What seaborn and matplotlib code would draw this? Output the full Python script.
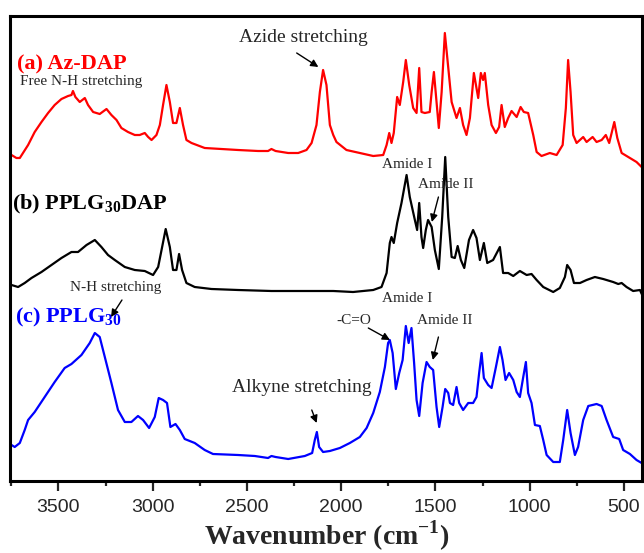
import matplotlib
matplotlib.use('Agg')
import matplotlib.pyplot as plt
import seaborn as sns
from matplotlib.ticker import MultipleLocator

# FTIR spectra (wavenumber in cm-1, stacked absorbance in arbitrary units)
red_wn = [3749, 3723, 3705, 3688, 3661, 3626, 3590, 3555, 3520, 3484,
          3449, 3431, 3423, 3410, 3387, 3360, 3343, 3316, 3281, 3245,
          3219, 3192, 3166, 3131, 3095, 3069, 3042, 3024, 3006, 2980,
          2962, 2945, 2927, 2909, 2892, 2874, 2856, 2839, 2821, 2794,
          2724, 2635, 2547, 2441, 2388, 2370, 2348, 2281, 2228, 2184,
          2157, 2131, 2113, 2096, 2078, 2060, 2042, 2025, 1972, 1901,
          1830, 1777, 1759, 1745, 1733, 1721, 1703, 1689, 1671, 1657,
          1639, 1618, 1600, 1586, 1574, 1556, 1530, 1520, 1508, 1494,
          1482, 1467, 1450, 1432, 1414, 1388, 1370, 1353, 1335, 1317,
          1296, 1273, 1259, 1247, 1238, 1220, 1202, 1179, 1162, 1149,
          1132, 1114, 1096, 1069, 1048, 1031, 1008, 981, 963, 937,
          893, 857, 825, 808, 796, 783, 769, 751, 716, 698,
          666, 645, 618, 596, 578, 551, 535, 512, 468, 433,
          406]
red_abs = [336, 333, 333, 338, 346, 359, 369, 378, 386, 392,
           395, 396, 400, 394, 389, 393, 386, 379, 377, 382,
           376, 371, 363, 359, 356, 356, 358, 354, 351, 356,
           366, 386, 406, 389, 368, 368, 383, 366, 351, 348,
           343, 342, 341, 340, 340, 342, 340, 338, 338, 341,
           348, 366, 399, 421, 406, 366, 356, 349, 341, 338,
           335, 336, 346, 358, 348, 358, 394, 386, 409, 431,
           406, 383, 378, 423, 379, 378, 379, 399, 419, 389,
           363, 399, 458, 423, 389, 373, 383, 366, 356, 373,
           418, 393, 418, 411, 418, 386, 366, 358, 364, 386,
           364, 373, 380, 374, 384, 379, 378, 356, 339, 335,
           338, 336, 346, 383, 431, 399, 356, 348, 354, 349,
           354, 349, 351, 356, 348, 369, 353, 338, 333, 329,
           324]

black_wn = [3749, 3714, 3679, 3643, 3590, 3537, 3484, 3431, 3396, 3351,
            3307, 3272, 3237, 3201, 3148, 3095, 3042, 2998, 2971, 2953,
            2931, 2909, 2892, 2874, 2860, 2844, 2821, 2777, 2688, 2547,
            2370, 2193, 2042, 1937, 1830, 1786, 1759, 1742, 1733, 1721,
            1703, 1680, 1653, 1636, 1609, 1597, 1586, 1574, 1565, 1551,
            1539, 1520, 1503, 1482, 1464, 1448, 1432, 1414, 1397, 1382,
            1365, 1347, 1322, 1300, 1282, 1264, 1243, 1225, 1194, 1158,
            1141, 1114, 1087, 1052, 1016, 990, 963, 928, 875, 840,
            813, 801, 783, 765, 733, 698, 654, 610, 557, 530,
            512, 486, 451, 415, 398]
black_abs = [206, 204, 208, 213, 219, 226, 233, 239, 239, 246,
             251, 244, 236, 231, 224, 221, 220, 216, 224, 241,
             262, 244, 221, 221, 237, 221, 208, 204, 202, 201,
             200, 200, 200, 199, 201, 204, 218, 248, 254, 248,
             268, 288, 316, 294, 271, 261, 288, 254, 243, 261,
             271, 264, 241, 222, 274, 334, 274, 234, 233, 245,
             231, 223, 251, 261, 253, 231, 248, 228, 231, 244,
             218, 218, 215, 220, 216, 217, 211, 204, 199, 203,
             214, 226, 221, 208, 208, 211, 214, 212, 209, 207,
             208, 204, 200, 201, 194]

blue_wn = [3749, 3732, 3705, 3679, 3661, 3626, 3573, 3520, 3467, 3431,
           3378, 3334, 3307, 3281, 3254, 3219, 3184, 3148, 3113, 3078,
           3051, 3019, 2989, 2968, 2945, 2924, 2906, 2879, 2856, 2830,
           2777, 2724, 2680, 2547, 2458, 2388, 2370, 2348, 2281, 2193,
           2154, 2140, 2129, 2117, 2096, 2060, 2007, 1954, 1901, 1865,
           1830, 1795, 1768, 1751, 1742, 1727, 1710, 1692, 1674, 1657,
           1642, 1627, 1613, 1600, 1586, 1568, 1547, 1530, 1512, 1494,
           1480, 1462, 1448, 1432, 1423, 1406, 1388, 1374, 1353, 1326,
           1300, 1282, 1268, 1255, 1243, 1220, 1202, 1179, 1158, 1144,
           1128, 1109, 1087, 1069, 1052, 1034, 1020, 1008, 990, 972,
           946, 928, 910, 875, 840, 822, 801, 783, 760, 743,
           716, 689, 645, 618, 592, 557, 525, 504, 468, 433,
           406]
blue_abs = [46, 44, 48, 61, 71, 79, 94, 109, 123, 127,
            136, 148, 158, 154, 134, 108, 81, 69, 69, 75,
            71, 63, 74, 93, 91, 88, 64, 67, 61, 52,
            48, 41, 37, 36, 35, 33, 35, 34, 32, 35,
            38, 51, 59, 44, 39, 40, 43, 48, 54, 63,
            78, 99, 124, 148, 151, 138, 102, 118, 131, 165,
            148, 163, 128, 91, 75, 108, 129, 124, 121, 84,
            64, 84, 102, 98, 88, 86, 104, 88, 81, 88,
            88, 94, 118, 138, 113, 106, 103, 124, 144, 131,
            111, 118, 111, 99, 94, 114, 129, 98, 88, 66,
            65, 51, 36, 29, 29, 51, 81, 58, 36, 44,
            71, 85, 87, 85, 71, 54, 52, 41, 37, 31,
            28]

sns.set_style('ticks')
plt.rcParams['font.family'] = ['Liberation Serif', 'DejaVu Serif']
plt.rcParams['mathtext.fontset'] = 'custom'
plt.rcParams['mathtext.rm'] = 'Liberation Serif'
plt.rcParams['mathtext.bf'] = 'Liberation Serif:bold'

fig = plt.figure(figsize=(6.44, 5.53), dpi=100)
ax = fig.add_axes([10 / 644, 1 - 481 / 553, 632 / 644, 465 / 553])

for wn, ab, col in [(red_wn, red_abs, '#ff0000'),
                    (black_wn, black_abs, 'black'),
                    (blue_wn, blue_abs, '#0000ff')]:
    sns.lineplot(x=wn, y=ab, color=col, linewidth=1.6, estimator=None, ax=ax)

ax.set_xlim(3757, 404)
ax.set_ylim(10, 475)
ax.xaxis.set_major_locator(MultipleLocator(500))
ax.xaxis.set_minor_locator(MultipleLocator(250))
ax.set_yticks([])
ax.set_ylabel('')
ax.tick_params(axis='x', which='major', direction='out', length=7, width=1.6,
               pad=6, labelsize=14, labelfontfamily='Liberation Sans')
ax.tick_params(axis='x', which='minor', direction='out', length=3.5, width=1.6)
for s in ax.spines.values():
    s.set_linewidth(2.2)
    s.set_color('black')
ax.set_xlabel('Wavenumber (cm$^{\\mathbf{-1}}$)', fontsize=20, fontweight='bold')
ax.xaxis.set_label_coords(0.5016, -0.138)
ax.xaxis.label.set_verticalalignment('baseline')

# sample names
ax.text(3722, 422, '(a) Az-DAP', color='#ff0000', fontsize=16, fontweight='bold', va='baseline')
ax.text(3748, 282, '(b) PPLG$_{\\mathbf{30}}$DAP', color='black', fontsize=16, fontweight='bold', va='baseline')
ax.text(3731, 169, '(c) PPLG$_{\\mathbf{30}}$', color='#0000ff', fontsize=16, fontweight='bold', va='baseline')

# band assignments
ax.text(3704, 409, 'Free N-H stretching', fontsize=11, va='center')
ax.text(2201, 453, 'Azide stretching', fontsize=14, va='center', ha='center')
ax.text(3439, 204, 'N-H stretching', fontsize=11, va='center')
ax.text(1785, 326, 'Amide I', fontsize=11, va='center')
ax.text(1590, 307, 'Amide II', fontsize=11, va='center')
ax.text(1785, 192, 'Amide I', fontsize=11, va='center')
ax.text(2024, 170, '-C=O', fontsize=11, va='center')
ax.text(1599, 170, 'Amide II', fontsize=11, va='center')
ax.text(2581, 104, 'Alkyne stretching', fontsize=14, va='center')

arrow = dict(arrowstyle='-|>', color='black', lw=1.0, mutation_scale=11, shrinkA=0, shrinkB=0)
ax.annotate('', xy=(2121, 424), xytext=(2236, 438), arrowprops=arrow)
ax.annotate('', xy=(3221, 174), xytext=(3163, 191), arrowprops=arrow)
ax.annotate('', xy=(1519, 269), xytext=(1484, 294), arrowprops=arrow)
ax.annotate('', xy=(1741, 151), xytext=(1856, 163), arrowprops=arrow)
ax.annotate('', xy=(1514, 131), xytext=(1484, 154), arrowprops=arrow)
ax.annotate('', xy=(2130, 68), xytext=(2156, 81), arrowprops=arrow)

fig.savefig('out.png', dpi=100)
